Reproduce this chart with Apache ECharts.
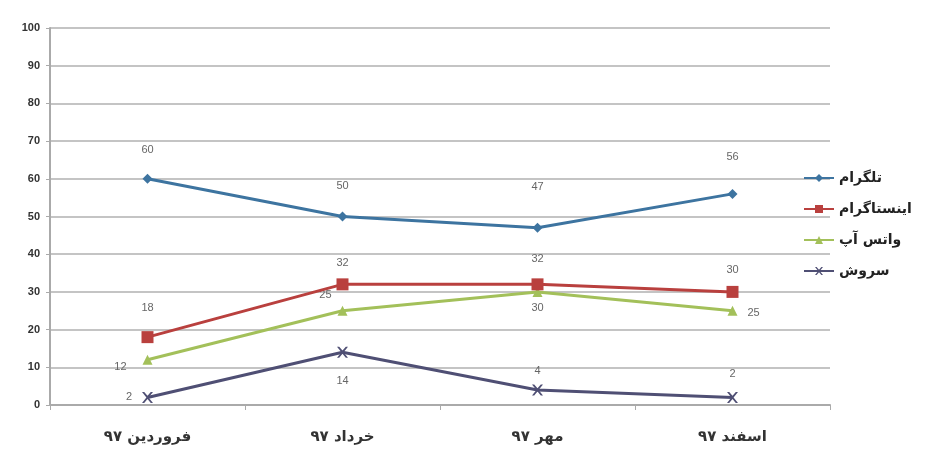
<!DOCTYPE html>
<html><head><meta charset="utf-8">
<script src="https://cdn.jsdelivr.net/npm/echarts@6/dist/echarts.min.js"></script>
<style>html,body{margin:0;padding:0;background:#fff}#c{width:948px;height:466px}</style>
</head><body><div id="c"></div>
<script>
const categories = ['فروردین ۹۷', 'خرداد ۹۷', 'مهر ۹۷', 'اسفند ۹۷'];
const seriesNames = ['تلگرام', 'اینستاگرام', 'واتس آپ', 'سروش'];
const telegram = [60, 50, 47, 56];
const instagram = [18, 32, 32, 30];
const whatsapp = [12, 25, 30, 25];
const soroush = [2, 14, 4, 2];
const yTicks = [0, 10, 20, 30, 40, 50, 60, 70, 80, 90, 100];

const colors = ['#3d74a0', '#b9403e', '#a3c05a', '#4f4f74'];
const xPath = 'path://M0,0 L2,0 L5,3.5 L8,0 L10,0 L6,5 L10,10 L8,10 L5,6.5 L2,10 L0,10 L4,5 Z';
const symbols = ['diamond', 'rect', 'triangle', xPath];
const symbolSizes = [10, 12, 10, 11];
// label placement per point (style only)
const labelPlace = [
  [{position:'top',distance:18},{position:'top',distance:20},{position:'top',distance:30},{position:'top',distance:26}],
  [{position:'top',distance:18},{position:'top',distance:10},{position:'top',distance:14},{position:'top',distance:10}],
  [{position:'left',distance:16,offset:[0,7]},{position:'left',distance:6,offset:[0,-16]},{position:'bottom',distance:6},{position:'right',distance:10,offset:[0,2]}],
  [{position:'left',distance:10},{position:'bottom',distance:18},{position:'top',distance:8},{position:'top',distance:12}]
];
const values = [telegram, instagram, whatsapp, soroush];

const chart = echarts.init(document.getElementById('c'), null, {renderer:'canvas'});
const series = values.map((vals, si) => ({
  name: seriesNames[si],
  type: 'line',
  data: vals.map((v, i) => ({value: v, label: labelPlace[si][i]})),
  symbol: symbols[si],
  symbolSize: symbolSizes[si],
  showAllSymbol: true,
  lineStyle: {width: 3, color: colors[si]},
  itemStyle: {color: colors[si]},
  label: {show: true, color: '#666', fontSize: 11, fontFamily: 'Liberation Sans'},
  z: 10 - si
}));

chart.setOption({
  animation: false,
  backgroundColor: '#fff',
  color: colors,
  grid: {left: 50, right: 118, top: 28, bottom: 61, containLabel: false},
  xAxis: {
    type: 'category',
    data: categories,
    boundaryGap: true,
    axisLine: {lineStyle: {color: '#aaa', width: 2}},
    axisTick: {show: true, length: 5, lineStyle: {color: '#aaa'}},
    axisLabel: {color: '#333', fontSize: 15, fontWeight: 'bold', margin: 25, fontFamily: 'DejaVu Sans'}
  },
  yAxis: {
    type: 'value',
    min: yTicks[0],
    max: yTicks[yTicks.length - 1],
    interval: yTicks[1] - yTicks[0],
    axisLine: {show: true, lineStyle: {color: '#aaa', width: 2}},
    axisTick: {show: true, length: 4, lineStyle: {color: '#aaa'}},
    axisLabel: {color: '#333', fontSize: 11, fontWeight: 'bold', margin: 10, fontFamily: 'Liberation Sans'},
    splitLine: {lineStyle: {color: '#c4c4c4', width: 2}}
  },
  legend: {
    orient: 'vertical',
    left: 798,
    top: 166,
    itemGap: 17,
    itemWidth: 30,
    itemHeight: 10,
    textStyle: {color: '#222', fontSize: 14, fontWeight: 'bold', fontFamily: 'DejaVu Sans'},
    data: seriesNames
  },
  series: series
});
</script>
</body></html>
